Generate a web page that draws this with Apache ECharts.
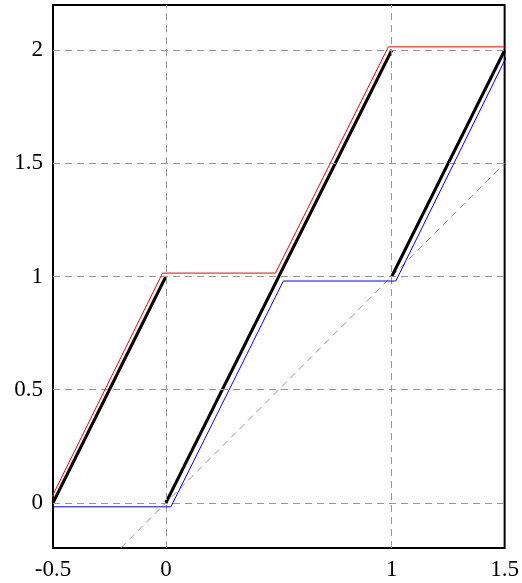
<!DOCTYPE html>
<html><head><meta charset="utf-8">
<script src="https://cdn.jsdelivr.net/npm/echarts@6/dist/echarts.min.js"></script>
<style>html,body{margin:0;padding:0;background:#fff}#c{width:522px;height:583px}</style>
</head><body><div id="c"></div>
<script>
const xTicks = [-0.5, 0, 1, 1.5];
const yTicks = [0, 0.5, 1, 1.5, 2];
const xGrid = [0, 1];
const yGrid = [0, 0.5, 1, 1.5, 2];
const black1 = [[-0.5, 0], [0, 1]];
const black2 = [[0, 0], [1, 2]];
const black3 = [[1, 1], [1.5, 2]];
const redLine = [[-0.515, 0.005], [-0.015, 1.015], [0.485, 1.015], [0.985, 2.015], [1.5, 2.015]];
const blueLine = [[-0.5, -0.018], [0.022, -0.018], [0.52, 0.98], [1.018, 0.98], [1.515, 1.985]];
const diagLine = [[-0.5, -0.5], [1.5, 1.5]];

const font = '"Liberation Serif", "DejaVu Serif", serif';
const gridStyle = {color: '#959595', width: 1, type: [7, 5]};
const chart = echarts.init(document.getElementById('c'));
chart.setOption({
  animation: false,
  grid: {left: 53, right: 13, top: 5, bottom: 35, show: true, borderColor: '#000', borderWidth: 2, backgroundColor: 'transparent'},
  xAxis: {type: 'value', min: -0.5, max: 1.5, interval: 0.5,
    axisLine: {show: false}, axisTick: {show: false}, splitLine: {show: false},
    axisLabel: {customValues: xTicks, color: '#000', fontFamily: font, fontSize: 23, margin: 10}},
  yAxis: {type: 'value', min: -0.2, max: 2.2,
    axisLine: {show: false}, axisTick: {show: false}, splitLine: {show: false},
    axisLabel: {customValues: yTicks, color: '#000', fontFamily: font, fontSize: 23, margin: 10}},
  series: [
    {type: 'line', data: [], silent: true,
      markLine: {symbol: 'none', silent: true, label: {show: false}, lineStyle: gridStyle,
        data: xGrid.map(v => ({xAxis: v})).concat(yGrid.map(v => ({yAxis: v})))}},
    {type: 'line', data: diagLine, showSymbol: false, clip: true, lineStyle: gridStyle, z: 3},
    {type: 'line', data: black1, showSymbol: false, clip: false, lineStyle: {color: '#000', width: 3}, z: 4},
    {type: 'line', data: black2, showSymbol: false, clip: false, lineStyle: {color: '#000', width: 3}, z: 4},
    {type: 'line', data: black3, showSymbol: false, clip: false, lineStyle: {color: '#000', width: 3}, z: 4},
    {type: 'line', data: redLine, showSymbol: false, clip: false, lineStyle: {color: '#ff0000', width: 1}, z: 5},
    {type: 'line', data: blueLine, showSymbol: false, clip: false, lineStyle: {color: '#0000ff', width: 1}, z: 5}
  ]
});
</script></body></html>
